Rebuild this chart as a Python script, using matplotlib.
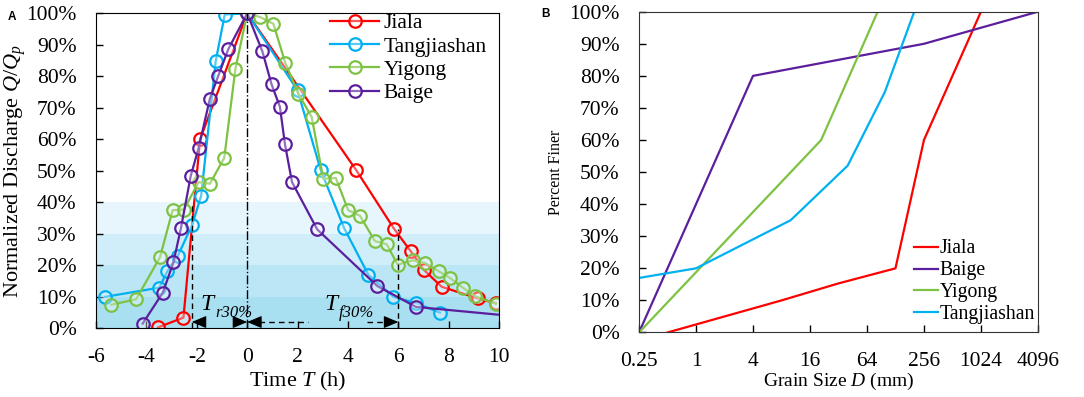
import matplotlib
matplotlib.use("Agg")
import matplotlib.pyplot as plt

plt.rcParams['font.family'] = ['Liberation Serif', 'DejaVu Serif']
plt.rcParams['mathtext.fontset'] = 'custom'
plt.rcParams['mathtext.rm'] = 'Liberation Serif'
plt.rcParams['mathtext.it'] = 'Liberation Serif:italic'
plt.rcParams['axes.unicode_minus'] = False

# panel A: normalized hydrographs (time in h, discharge in %)
jiala_t = [-3.54, -2.53, -1.87, 0, 4.32, 5.83, 6.49, 7.02, 7.72, 9.15, 9.87]
jiala_q = [0.3, 3.4, 60, 100, 50.3, 31.6, 24.5, 18.5, 13.2, 9.5, 8.0]

tang_t = [-5.64, -3.49, -3.17, -2.76, -2.18, -1.83, -1.25, -0.89, 0, 2.0, 2.92,
          3.85, 4.81, 5.8, 6.7, 7.65]
tang_q = [10, 12.9, 18.1, 22.9, 32.9, 42, 84.8, 99.6, 100, 75.5, 50.2,
          31.8, 17, 10, 8, 5]

yig_t = [-5.39, -4.41, -3.46, -2.96, -2.51, -1.93, -1.48, -0.91, -0.47, 0,
         0.51, 1.04, 1.51, 2.03, 2.56, 3.02, 3.52, 4.01, 4.48, 5.07, 5.54,
         5.97, 6.57, 7.06, 7.61, 8.05, 8.58, 9.04, 9.87]
yig_q = [7.5, 9.2, 22.6, 37.5, 37.7, 46.4, 45.9, 54.1, 82.2, 100,
         98.8, 96.7, 84.3, 74.5, 67.1, 47.5, 47.7, 37.5, 35.7, 27.7, 26.7,
         20.2, 21.6, 20.7, 18.1, 16, 12.8, 10.2, 7.8]

baige_t = [-4.15, -3.35, -2.93, -2.63, -2.24, -1.93, -1.48, -1.15, -0.75, 0,
           0.6, 0.97, 1.3, 1.5, 1.78, 2.78, 5.17, 6.7, 10]
baige_q = [1.5, 11.3, 20.9, 31.8, 48.4, 57.2, 72.9, 80.1, 88.6, 100,
           88, 77.4, 70.3, 58.4, 46.4, 31.4, 13.4, 6.8, 4.3]

tr30 = -2.2
tf30 = 6.0

# panel B: grain size distributions (D in mm, percent finer)
gs_jiala_d = [0.5, 8, 32, 128, 256, 1024, 4096]
gs_jiala_p = [0, 10, 15.3, 20, 60, 100, 100]
gs_baige_d = [0.25, 4, 256, 1024, 4096]
gs_baige_p = [0, 80, 90, 95, 100]
gs_yig_d = [0.25, 21, 83]
gs_yig_p = [0, 60, 100]
gs_tang_d = [0.25, 1, 10, 40, 99, 202]
gs_tang_p = [17, 20, 35, 52, 75, 100]

grain_ticks = [0.25, 1, 4, 16, 64, 256, 1024, 4096]
grain_labels = ['0.25', '1', '4', '16', '64', '256', '1024', '4096']

red = '#FF0000'
blue = '#00B0F0'
green = '#7DC242'
purple = '#5B1F9E'
bands = ['#A8DFF1', '#BAE6F5', '#CFEEF9', '#E6F6FC']

fig = plt.figure(figsize=(10.84, 3.97), dpi=100)
ax = fig.add_axes([0.0886, 0.173, 0.3718, 0.7935])
bx = fig.add_axes([0.5895, 0.1625, 0.368, 0.808])

# shaded bands
for i, c in enumerate(bands):
    ax.axhspan(i * 10, (i + 1) * 10, color=c, lw=0, zorder=0)

mk = dict(marker='o', markersize=9, markerfacecolor=(1, 1, 1, 0.35),
          markeredgewidth=1.6, linewidth=1.6)
ax.plot(jiala_t, jiala_q, color=red, markeredgecolor=red, label='Jiala', **mk)
ax.plot(tang_t, tang_q, color=blue, markeredgecolor=blue, label='Tangjiashan', **mk)
ax.plot(yig_t, yig_q, color=green, markeredgecolor=green, label='Yigong', **mk)
ax.plot(baige_t, baige_q, color=purple, markeredgecolor=purple, label='Baige',
        markevery=list(range(len(baige_t) - 1)), **mk)

ax.plot([0, 0], [0, 100], color='k', lw=1, ls='-.', zorder=5)
ax.plot([tr30, tr30], [0, 40], color='k', lw=1, ls=(0, (4, 3)), zorder=5)
ax.plot([tf30, tf30], [0, 31.5], color='k', lw=1, ls=(0, (4, 3)), zorder=5)
ax.plot([0.45, 2.4], [2, 2], color='k', lw=1, ls=(0, (4, 3)), zorder=5)
ax.plot([4.75, 5.5], [2, 2], color='k', lw=1, ls=(0, (4, 3)), zorder=5)

head = dict(arrowstyle='-|>,head_length=0.9,head_width=0.38', color='k',
            lw=0.8, shrinkA=0, shrinkB=0)
ax.annotate('', xy=(tr30, 2), xytext=(tr30 + 0.5, 2), arrowprops=head, zorder=6)
ax.annotate('', xy=(0, 2), xytext=(-0.5, 2), arrowprops=head, zorder=6)
ax.annotate('', xy=(0, 2), xytext=(0.5, 2), arrowprops=head, zorder=6)
ax.annotate('', xy=(tf30, 2), xytext=(tf30 - 0.5, 2), arrowprops=head, zorder=6)

# T labels: italic T with italic subscript
for x0, sub in [(-1.85, 'r30%'), (3.05, 'f30%')]:
    ax.text(x0, 5.8, 'T', fontsize=17, style='italic', va='baseline', zorder=6)
    ax.annotate(sub, xy=(x0, 5.8), xytext=(10.5, -5), textcoords='offset points',
                fontsize=12, style='italic', va='baseline', zorder=6)

ax.set_xlim(-6, 10)
ax.set_ylim(0, 100)
ax.set_xticks(range(-6, 11, 2))
ax.set_yticks(range(0, 101, 10))
ax.set_yticklabels(['%d%%' % v for v in range(0, 101, 10)])
ax.tick_params(direction='in', length=5, width=1, labelsize=15.5, pad=14)
ax.set_xlabel('Time $T$ (h)', fontsize=16, labelpad=2)
ax.set_ylabel('Normalized Discharge $Q/Q_p$', fontsize=16, labelpad=-1)
ax.legend(loc='upper left', bbox_to_anchor=(0.58, 1.0), frameon=False,
          fontsize=15.5, handlelength=2.3, handletextpad=0.2, labelspacing=0.15,
          borderpad=0, borderaxespad=0)

bx.plot(gs_jiala_d, gs_jiala_p, color=red, lw=1.6, label='Jiala')
bx.plot(gs_baige_d, gs_baige_p, color=purple, lw=1.6, label='Baige')
bx.plot(gs_yig_d, gs_yig_p, color=green, lw=1.6, label='Yigong')
bx.plot(gs_tang_d, gs_tang_p, color=blue, lw=1.6, label='Tangjiashan')
bx.set_xscale('log', base=2)
bx.set_xlim(0.25, 4096)
bx.set_ylim(0, 100)
bx.set_xticks(grain_ticks)
bx.set_xticklabels(grain_labels)
bx.minorticks_off()
bx.set_yticks(range(0, 101, 10))
bx.set_yticklabels(['%d%%' % v for v in range(0, 101, 10)])
bx.tick_params(direction='in', length=5, width=1, labelsize=15.5, pad=14)
bx.set_xlabel('Grain Size $D$ (mm)', fontsize=14, labelpad=0)
bx.set_ylabel('Percent Finer', fontsize=11.5, labelpad=4)
for s in bx.spines.values():
    s.set_color('#333333')
bx.legend(loc='upper left', bbox_to_anchor=(0.69, 0.29), frameon=False,
          fontsize=14.2, handlelength=1.2, handletextpad=0.1, labelspacing=0.15,
          borderpad=0, borderaxespad=0)

fig.text(11.7 / 1084, 1 - 16.7 / 397, 'A', family='Liberation Sans',
         weight='bold', fontsize=8.5, ha='center', va='center')
fig.text(546 / 1084, 1 - 14 / 397, 'B', family='Liberation Sans',
         weight='bold', fontsize=8.5, ha='center', va='center')

fig.savefig('out.png', dpi=100)
